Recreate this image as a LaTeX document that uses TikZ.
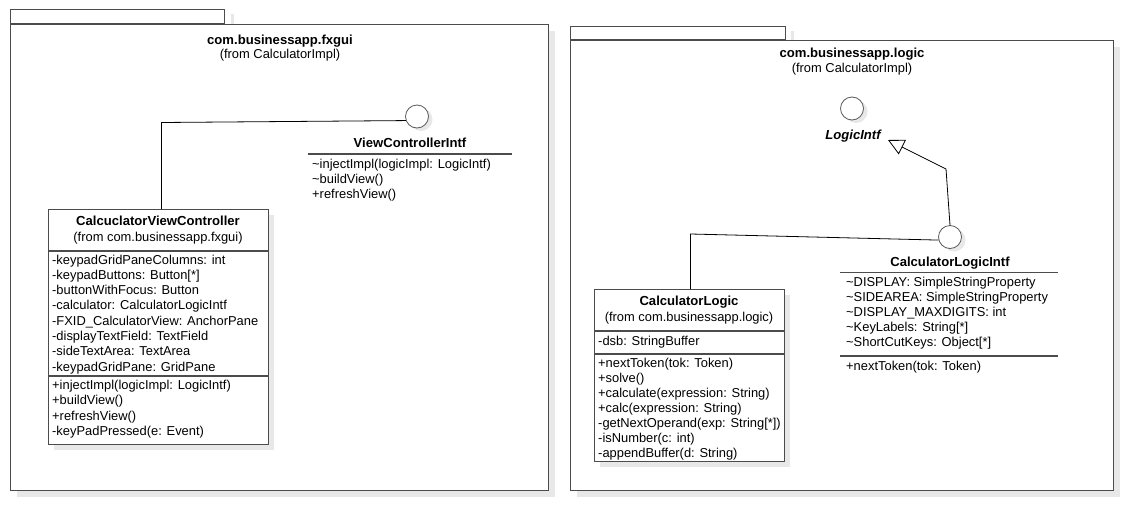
\documentclass[tikz,border=0pt]{standalone}
\usepackage{fontspec}
\setmainfont{Liberation Sans}
\usetikzlibrary{arrows.meta}
\tikzset{
  shd/.style={fill=black!9, draw=none},
  pkgbox/.style={draw=black!70, line width=1.3pt, fill=white, rectangle, inner sep=0pt},
  clsbox/.style={draw=black!70, line width=1.1pt, fill=white, rectangle, inner sep=0pt},
  sepline/.style={draw=black!70, line width=1.1pt},
  lolli/.style={circle, draw=black!65, line width=0.8pt, fill=white, minimum size=23pt, inner sep=0pt},
  conn/.style={draw=black, line width=0.8pt},
  txt/.style={font=\fontsize{12.9}{15}\selectfont, inner sep=0pt, anchor=base west},
  ctxt/.style={font=\fontsize{12.9}{15}\selectfont, inner sep=0pt, anchor=base},
  btxt/.style={font=\fontsize{13.1}{15}\selectfont\bfseries, inner sep=0pt, anchor=base},
}
\begin{document}
\begin{tikzpicture}[x=1pt, y=-1pt]
\useasboundingbox (0,0) rectangle (1146,530);

% ---------- left package ----------
\fill[shd] (231,14) rectangle (234,24);
\fill[shd] (17,31) rectangle (555,497);
\node[pkgbox, minimum width=214pt, minimum height=14pt, anchor=south west] (tabL) at (10,24) {};
\node[pkgbox, minimum width=538pt, minimum height=466pt, anchor=north west] (pkgL) at (10,24) {};
\node[btxt] (pkgLt) at (280,44) {com.businessapp.fxgui};
\node[ctxt] (pkgLs) at (280,58.5) {(from CalculatorImpl)};

% ViewControllerIntf
\fill[shd] (421,119.5) circle (11.5);
\node[lolli] (vci) at (417,116.5) {};
\node[btxt] (vcit) at (410,147) {ViewControllerIntf};
\draw[sepline] (308,154) -- (512,154);
\foreach \t [count=\i] in {\textasciitilde injectImpl(logicImpl: LogicIntf),\textasciitilde buildView(),+refreshView()}
  \node[txt] (vcim\i) at (312,{168+15.3*(\i-1)}) {\t};

% CalculctorViewController
\fill[shd] (54,215) rectangle (274,450);
\node[clsbox, minimum width=220pt, minimum height=235pt, anchor=north west] (cvc) at (48,209) {};
\node[btxt] (cvct) at (158,225) {CalcuclatorViewController};
\node[ctxt] (cvcs) at (158,241.5) {(from com.businessapp.fxgui)};
\draw[sepline] (48,251) -- (268,251);
\foreach \t [count=\i] in {-keypadGridPaneColumns: int,-keypadButtons: Button[*],-buttonWithFocus: Button,-calculator: CalculatorLogicIntf,-FXID\_CalculatorView: AnchorPane,-displayTextField: TextField,-sideTextArea: TextArea,-keypadGridPane: GridPane}
  \node[txt] (cvca\i) at (52,{264+15.3*(\i-1)}) {\t};
\draw[sepline] (48,376) -- (268,376);
\foreach \t [count=\i] in {+injectImpl(logicImpl: LogicIntf),+buildView(),+refreshView(),-keyPadPressed(e: Event)}
  \node[txt] (cvcm\i) at (52,{389.5+15.3*(\i-1)}) {\t};

\draw[conn] ([xshift=3pt]cvc.north) -- ++(0,-86.5) -- (vci.200);

% ---------- right package ----------
\fill[shd] (791,31) rectangle (794,40);
\fill[shd] (577,47) rectangle (1120,497);
\node[pkgbox, minimum width=215pt, minimum height=13pt, anchor=south west] (tabR) at (570,40) {};
\node[pkgbox, minimum width=543pt, minimum height=450pt, anchor=north west] (pkgR) at (570,40) {};
\node[btxt] (pkgRt) at (852,57.5) {com.businessapp.logic};
\node[ctxt] (pkgRs) at (852,72) {(from CalculatorImpl)};

% LogicIntf
\fill[shd] (856,111.5) circle (11.5);
\node[lolli] (li) at (852,108.5) {};
\node[btxt, font=\fontsize{13.1}{15}\selectfont\bfseries\itshape] (lit) at (853,139) {LogicIntf};

% CalculatorLogicIntf
\fill[shd] (954,240) circle (11.5);
\node[lolli] (cli) at (950,237) {};
\node[btxt] (clit) at (950,266.5) {CalculatorLogicIntf};
\draw[sepline] (840,272.5) -- (1058,272.5);
\foreach \t [count=\i] in {\textasciitilde DISPLAY: SimpleStringProperty,\textasciitilde SIDEAREA: SimpleStringProperty,\textasciitilde DISPLAY\_MAXDIGITS: int,\textasciitilde KeyLabels: String[*],\textasciitilde ShortCutKeys: Object[*]}
  \node[txt] (clia\i) at (846,{286+15*(\i-1)}) {\t};
\draw[sepline] (840,356) -- (1058,356);
\node[txt] (clim1) at (846,370.5) {+nextToken(tok: Token)};

% generalization
\coordinate (genBend) at (946,169);
\coordinate (genTip) at (888,140);
\draw[conn, -{Triangle[open, length=16pt, width=16pt, line width=0.8pt]}] (cli.north) -- (genBend) -- (genTip);

% CalculatorLogic
\fill[shd] (600,295) rectangle (790,467);
\node[clsbox, minimum width=190pt, minimum height=172pt, anchor=north west] (cl) at (594,289) {};
\node[btxt] (clt) at (689,305.5) {CalculatorLogic};
\node[ctxt] (cls) at (689,321.5) {(from com.businessapp.logic)};
\draw[sepline] (594,331) -- (784,331);
\node[txt] (cla1) at (598,345) {-dsb: StringBuffer};
\draw[sepline] (594,354) -- (784,354);
\foreach \t [count=\i] in {+nextToken(tok: Token),+solve(),+calculate(expression: String),+calc(expression: String),-getNextOperand(exp: String[*]),-isNumber(c: int),-appendBuffer(d: String)}
  \node[txt] (clm\i) at (598,{367.5+15*(\i-1)}) {\t};

\draw[conn] ([xshift=1pt]cl.north) -- ++(0,-55) -- (cli.195);
\end{tikzpicture}
\end{document}
